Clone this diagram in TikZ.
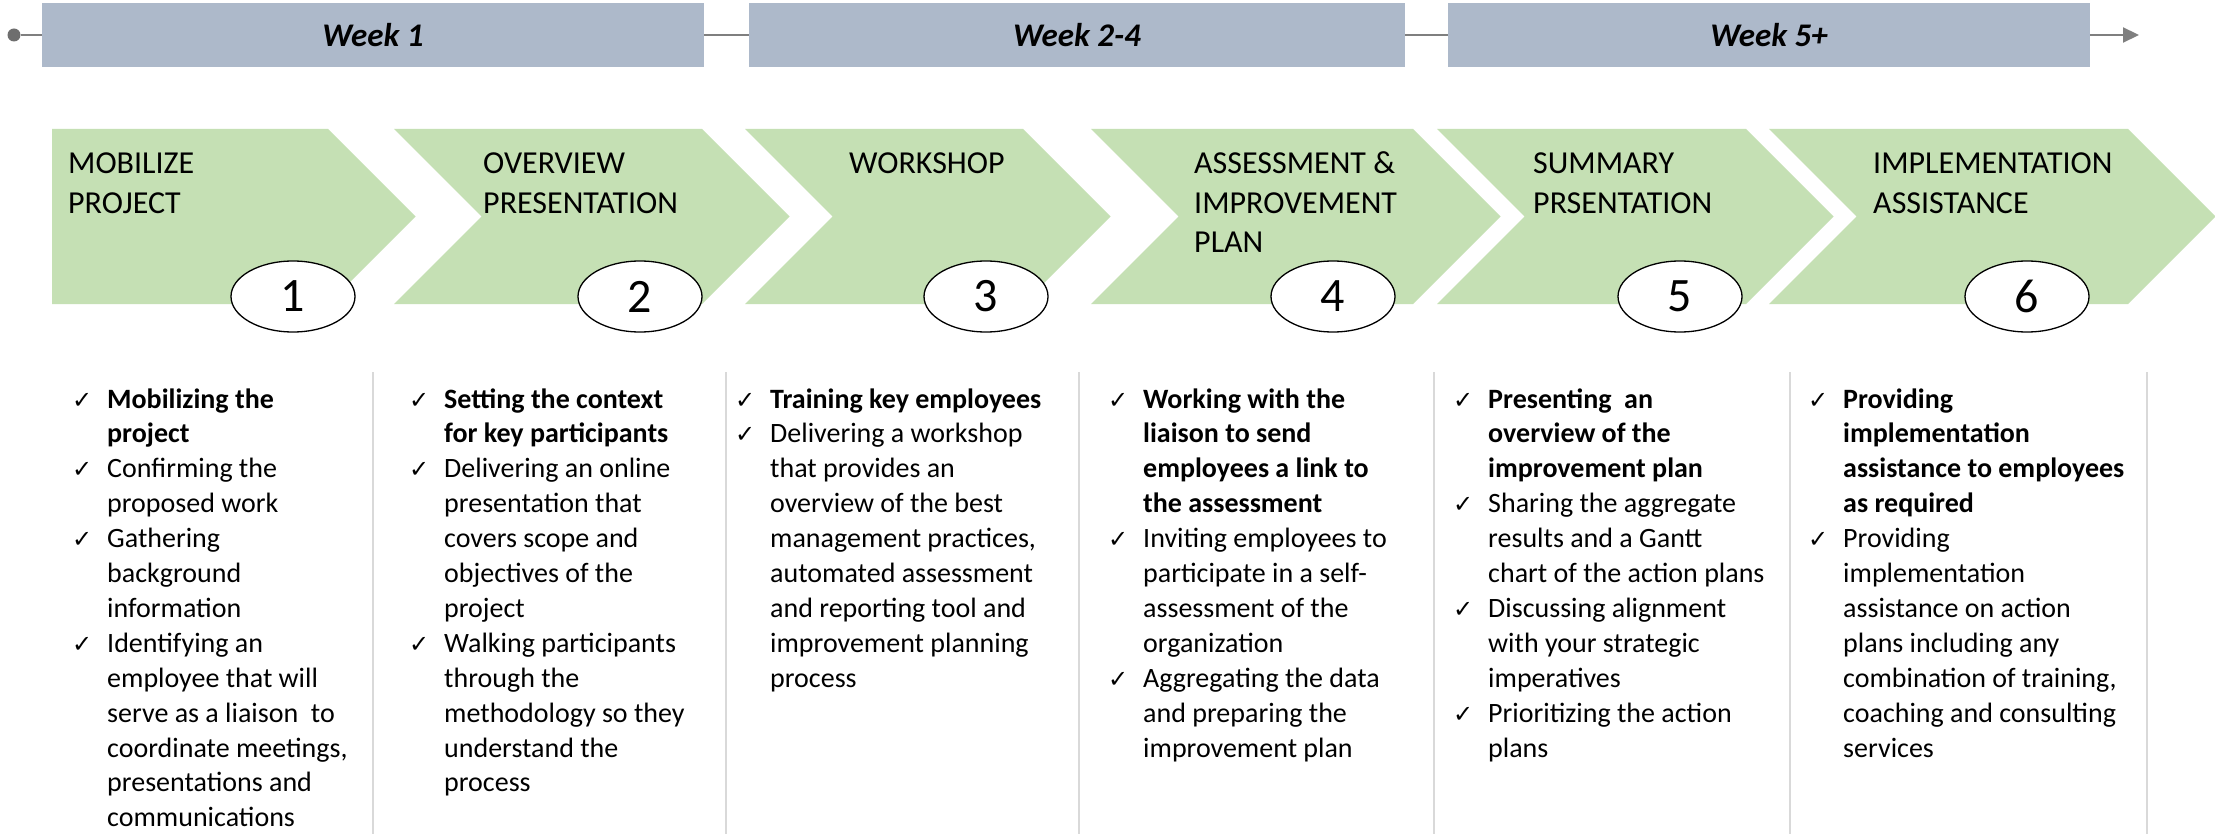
\documentclass[tikz,border=0pt]{standalone}
\usepackage{fontspec}
\setmainfont{Carlito}
\newfontfamily\chkfont{DejaVu Sans}
\usetikzlibrary{arrows.meta,shapes.geometric}
\definecolor{barblue}{HTML}{ADB9CA}
\definecolor{chevgreen}{HTML}{C5E0B4}
\definecolor{tlgray}{HTML}{7F7F7F}
\definecolor{dotgray}{HTML}{6E6E6E}
\definecolor{sepgray}{HTML}{D9D9D9}
\newcommand\chk[1]{\par\noindent\hangindent=35pt\hangafter=1\makebox[35pt][l]{\chkfont\fontsize{24}{26}\selectfont ✓}#1\par}
\newcommand\colbox[1]{\begin{minipage}[t]{420pt}\raggedright\fontsize{28}{34.9}\selectfont\parskip=0pt #1\end{minipage}}
\newcommand\hdrbox[1]{\begin{minipage}[t]{400pt}\raggedright\fontsize{32}{39.5}\selectfont #1\end{minipage}}
\newcommand\chevpath[2]{(#1,129) -- (#2,129) -- ++(87.5,87.5) -- ++(-87.5,87.5) -- (#1,304) -- ++(87.5,-87.5) -- cycle}
\tikzset{
  weekbar/.style={fill=barblue, inner sep=0pt, minimum height=64pt, font=\fontsize{33}{40}\selectfont\bfseries\itshape},
  chev/.style={fill=chevgreen},
  numoval/.style={ellipse, draw=black, line width=1.3pt, fill=white, minimum width=124pt, minimum height=71pt, inner sep=0pt, font=\fontsize{48}{50}\selectfont},
  tl/.style={draw=tlgray, line width=2pt},
  sepline/.style={draw=sepgray, line width=1.5pt},
  coltext/.style={anchor=base west, inner sep=0pt},
}
\begin{document}
\begin{tikzpicture}[x=1pt,y=-1pt]
\useasboundingbox (0,0) rectangle (2215,834);
\fill[white] (0,0) rectangle (2215,834);

% timeline
\node[weekbar, minimum width=662pt] (w1) at (373,35) {Week 1};
\node[weekbar, minimum width=656pt] (w2) at (1077,35) {Week 2-4};
\node[weekbar, minimum width=642pt] (w3) at (1769,35) {Week 5+};
\node[circle, fill=dotgray, minimum size=13pt, inner sep=0pt] (dot) at (14,35) {};
\coordinate (tlend) at (2139,35);
\draw[tl] (dot) -- (w1.west);
\draw[tl] (w1.east) -- (w2.west);
\draw[tl] (w2.east) -- (w3.west);
\draw[tl, -{Triangle[length=16pt,width=15pt]}] (w3.east) -- (tlend);

% chevrons
\fill[chev] (52,129) -- (328,129) -- ++(87.5,87.5) -- ++(-87.5,87.5) -- (52,304) -- cycle;
\fill[chev] \chevpath{394}{702};
\fill[chev] \chevpath{745}{1023};
\fill[chev] \chevpath{1091}{1413};
\fill[chev] \chevpath{1437}{1746};
\fill[chev] \chevpath{1769}{2128};

% headers
\node[coltext] (h1) at (68,174) {\hdrbox{MOBILIZE\\PROJECT}};
\node[coltext] (h2) at (483,174) {\hdrbox{OVERVIEW\\PRESENTATION}};
\node[coltext] (h3) at (849,174) {\hdrbox{WORKSHOP}};
\node[coltext] (h4) at (1194,174) {\hdrbox{ASSESSMENT \&\\IMPROVEMENT\\PLAN}};
\node[coltext] (h5) at (1533,174) {\hdrbox{SUMMARY\\PRSENTATION}};
\node[coltext] (h6) at (1873,174) {\hdrbox{IMPLEMENTATION\\ASSISTANCE}};

% number ovals
\node[numoval] (n1) at (293,296.5) {1};
\node[numoval] (n2) at (640,296.5) {2};
\node[numoval] (n3) at (986,296.5) {3};
\node[numoval] (n4) at (1333,296.5) {4};
\node[numoval] (n5) at (1680,296.5) {5};
\node[numoval] (n6) at (2027,296.5) {6};

% separators
\foreach \sx in {373,726,1079,1434,1790,2147} \draw[sepline] (\sx,372) -- (\sx,834);

% columns
\node[coltext] (c1) at (72,408) {\colbox{%
\chk{\textbf{Mobilizing the\newline project}}
\chk{Confirming the\newline proposed work}
\chk{Gathering\newline background\newline information}
\chk{Identifying an\newline employee that will\newline serve as a liaison~ to\newline coordinate meetings,\newline presentations and\newline communications}}};

\node[coltext] (c2) at (409,408) {\colbox{%
\chk{\textbf{Setting the context\newline for key participants}}
\chk{Delivering an online\newline presentation that\newline covers scope and\newline objectives of the\newline project}
\chk{Walking participants\newline through the\newline methodology so they\newline understand the\newline process}}};

\node[coltext] (c3) at (735,408) {\colbox{%
\chk{\textbf{Training key employees}}
\chk{Delivering a workshop\newline that provides an\newline overview of the best\newline management practices,\newline automated assessment\newline and reporting tool and\newline improvement planning\newline process}}};

\node[coltext] (c4) at (1108,408) {\colbox{%
\chk{\textbf{Working with the\newline liaison to send\newline employees a link to\newline the assessment}}
\chk{Inviting employees to\newline participate in a self-\newline assessment of the\newline organization}
\chk{Aggregating the data\newline and preparing the\newline improvement plan}}};

\node[coltext] (c5) at (1453,408) {\colbox{%
\chk{\textbf{Presenting~ an\newline overview of the\newline improvement plan}}
\chk{Sharing the aggregate\newline results and a Gantt\newline chart of the action plans}
\chk{Discussing alignment\newline with your strategic\newline imperatives}
\chk{Prioritizing the action\newline plans}}};

\node[coltext] (c6) at (1808,408) {\colbox{%
\chk{\textbf{Providing\newline implementation\newline assistance to employees\newline as required}}
\chk{Providing\newline implementation\newline assistance on action\newline plans including any\newline combination of training,\newline coaching and consulting\newline services}}};
\end{tikzpicture}
\end{document}
